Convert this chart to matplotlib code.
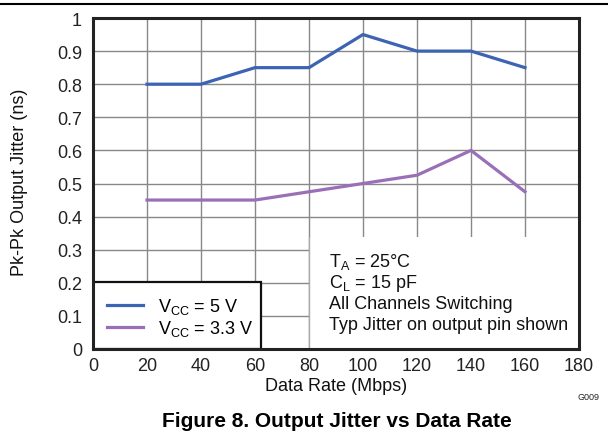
import matplotlib
matplotlib.use("Agg")
import matplotlib.pyplot as plt
from matplotlib.patches import Rectangle
from matplotlib.lines import Line2D

plt.rcParams['font.family'] = ['Liberation Sans', 'DejaVu Sans']
plt.rcParams['mathtext.fontset'] = 'custom'
plt.rcParams['mathtext.rm'] = 'Liberation Sans'
plt.rcParams['mathtext.it'] = 'Liberation Sans'

data_rate = [20, 40, 60, 80, 100, 120, 140, 160]
jitter_5v = [0.80, 0.80, 0.85, 0.85, 0.95, 0.90, 0.90, 0.85]
jitter_33v = [0.45, 0.45, 0.45, 0.475, 0.50, 0.525, 0.60, 0.475]
x_ticks = [0, 20, 40, 60, 80, 100, 120, 140, 160, 180]
y_ticks = [0, 0.1, 0.2, 0.3, 0.4, 0.5, 0.6, 0.7, 0.8, 0.9, 1]
y_tick_labels = ['0', '0.1', '0.2', '0.3', '0.4', '0.5', '0.6', '0.7', '0.8', '0.9', '1']
labels = [r'V$_{\mathregular{CC}}$ = 5 V', r'V$_{\mathregular{CC}}$ = 3.3 V']
conditions = [r'T$_{\mathregular{A}}$ = 25°C', r'C$_{\mathregular{L}}$ = 15 pF',
              'All Channels Switching', 'Typ Jitter on output pin shown']

blue = '#3D63B3'
purple = '#9A6FB8'
FS = 13

W, H = 608, 435
fig = plt.figure(figsize=(W / 100, H / 100), dpi=100)
ax = fig.add_axes([93 / W, 85 / H, 486 / W, 331 / H])
ax.set_xlim(0, 180)
ax.set_ylim(0, 1)
ax.set_xticks(x_ticks)
ax.set_yticks(y_ticks)
ax.set_yticklabels(y_tick_labels)
ax.tick_params(length=0, labelsize=FS, colors='#222222')
ax.tick_params(axis='x', pad=6)
ax.tick_params(axis='y', pad=8)
ax.set_axisbelow(True)
ax.grid(True, color='#888888', linewidth=1.0, zorder=0.5)
for s in ax.spines.values():
    s.set_linewidth(2.2)
    s.set_color('#222222')
    s.set_zorder(5)

# white boxes covering grid
ax.add_patch(Rectangle((80, 0), 100, 0.338, facecolor='white', edgecolor='none', zorder=1))
ax.add_patch(Rectangle((0, 0), 62.2, 0.203, facecolor='white', edgecolor='#111111',
                       linewidth=1.6, zorder=3))
ax.axvline(80, ymin=0, ymax=0.338, color='#aaaaaa', linewidth=1.0, zorder=1.1)

ax.plot(data_rate, jitter_5v, color=blue, linewidth=2.3, zorder=4)
ax.plot(data_rate, jitter_33v, color=purple, linewidth=2.3, zorder=4)

handles = [Line2D([], [], color=blue, linewidth=2.3), Line2D([], [], color=purple, linewidth=2.3)]
leg = ax.legend(handles, labels, loc='center left',
                bbox_to_anchor=((107 - 93) / 486, (350 - 318) / 331),
                frameon=False, fontsize=FS, handlelength=2.0, handletextpad=0.85,
                labelspacing=0.12, borderpad=0.0, borderaxespad=0.0)
leg.set_zorder(6)

baselines = [267, 288, 309, 330]
for txt, b in zip(conditions, baselines):
    ax.text((329 - 93) / 486, (350 - b) / 331, txt, transform=ax.transAxes, fontsize=FS,
            va='baseline', ha='left', color='#111111', zorder=6)

ax.set_xlabel('Data Rate (Mbps)', fontsize=FS, color='#111111')
ax.xaxis.set_label_coords(0.5, (350 - 378) / 331)
ax.set_ylabel('Pk-Pk Output Jitter (ns)', fontsize=FS, color='#111111')
ax.yaxis.set_label_coords((20 - 93) / 486, (350 - 182) / 331)
ax.yaxis.label.set_va('center')

fig.add_artist(Line2D([0, 1], [1 - 5 / H, 1 - 5 / H], color='black', linewidth=1.5))
fig.text(589 / W, 1 - 398 / H, 'G009', fontsize=6.5, ha='center', va='center', color='#222222')
fig.text(337 / W, 1 - 427 / H, 'Figure 8. Output Jitter vs Data Rate', fontsize=15,
         fontweight='bold', ha='center', va='baseline')

fig.savefig('out.png', dpi=100)
